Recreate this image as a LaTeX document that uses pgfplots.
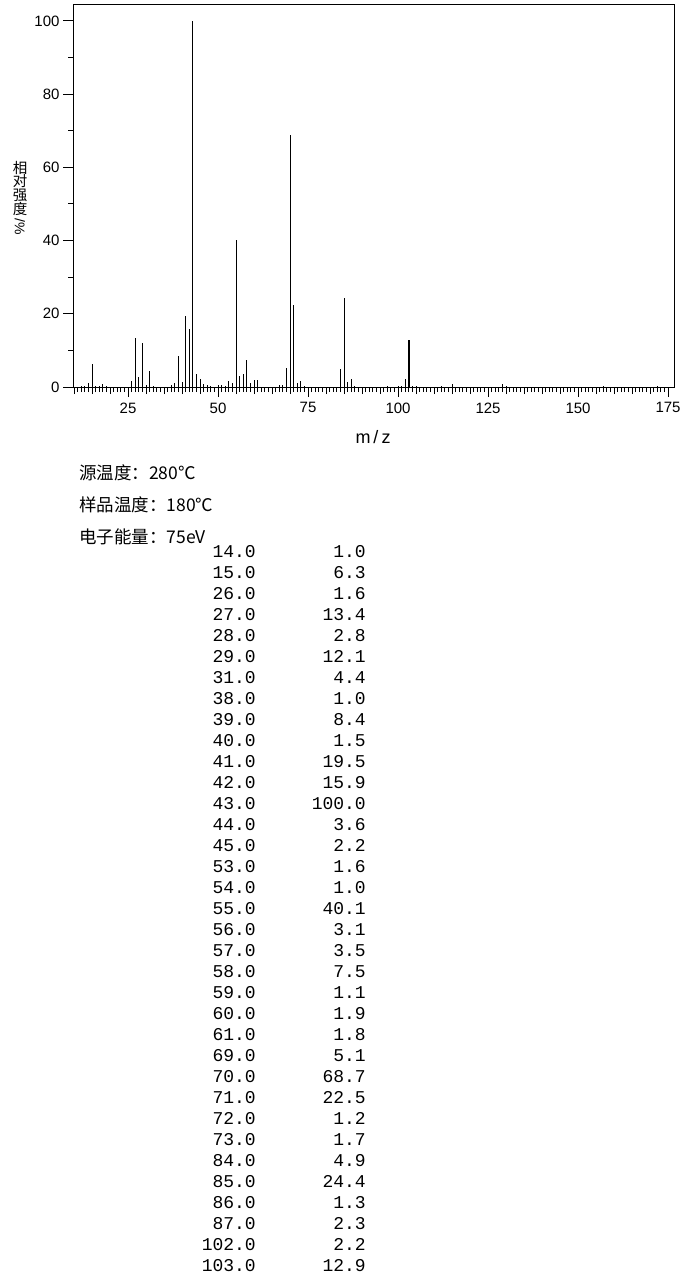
\documentclass[border=0pt]{standalone}
\usepackage{fontspec}
\setmainfont{Liberation Sans}
\newfontfamily\cjk{Noto Sans CJK SC}
\newfontfamily\mono{Liberation Mono}
\usepackage{pgfplots}
\pgfplotsset{compat=1.18}
\begin{document}
\begin{tikzpicture}[x=1pt,y=1pt]
\useasboundingbox (0,0) rectangle (680,-1276);
\begin{axis}[
  at={(73pt,-387pt)}, anchor=south west,
  scale only axis, width=601pt, height=383pt,
  xmin=9.7, xmax=176.65, ymin=0, ymax=104.6,
  axis line style={line width=0.9pt},
  every tick/.style={black, line width=0.9pt},
  tick align=outside, tick pos=left,
  xtick={25,50,...,175}, ytick={0,20,...,100},
  minor xtick={10,11,...,175}, minor ytick={10,30,...,90},
  extra x ticks={10,15,...,175}, extra x tick labels={},
  extra x tick style={major tick length=7pt},
  major tick length=10pt, minor tick length=5pt,
  /pgf/number format/assume math mode=true,
  ticklabel style={font=\fontsize{15}{15}\selectfont},
  xticklabel style={yshift=-2pt},
]
\addplot[ycomb, black, line width=0.9pt, mark=none] coordinates {
(12,0.3) (13,0.4) (14,1.0) (15,6.3) (16,0.4) (17,0.4) (18,0.8) (19,0.3)
(26,1.6) (27,13.4) (28,2.8) (29,12.1) (30,0.5) (31,4.4) (32,0.3)
(37,0.5) (38,1.0) (39,8.4) (40,1.5) (41,19.5) (42,15.9) (43,100.0) (44,3.6) (45,2.2)
(46,0.9) (47,0.5) (48,0.3) (50,0.5) (51,0.5) (52,0.3)
(53,1.6) (54,1.0) (55,40.1) (56,3.1) (57,3.5) (58,7.5) (59,1.1) (60,1.9) (61,1.8)
(67,0.5) (68,0.5) (69,5.1) (70,68.7) (71,22.5) (72,1.2) (73,1.7) (74,0.3)
(84,4.9) (85,24.4) (86,1.3) (87,2.3) (88,0.3)
(97,0.4) (100,0.4) (101,0.4) (102,2.2) (104,0.3) (105,0.2)
(112,0.3) (115,0.9) (129,0.7) (130,0.3) (157,0.3) (172,0.3)
};
\addplot[ycomb, black, line width=2.4pt, mark=none] coordinates {(103,12.9)};
\end{axis}
% axis titles
\node[anchor=north, align=center, inner sep=0, font=\cjk\fontsize{14.5}{13.4}\selectfont] at (20,-161) {相\\对\\强\\度};
\node[rotate=-90, anchor=west, inner sep=0, font=\fontsize{14}{14}\selectfont] at (20,-218) {/\%};
\node[font=\fontsize{18}{18}\selectfont, inner sep=0] at (373,-437) {m\hspace{3pt}/\hspace{3pt}z};
% conditions
\node[anchor=base west, inner sep=0, font=\cjk\fontsize{17.5}{17.5}\selectfont] at (79,-479) {源温度：280℃};
\node[anchor=base west, inner sep=0, font=\cjk\fontsize{17.5}{17.5}\selectfont] at (79,-511) {样品温度：180℃};
\node[anchor=base west, inner sep=0, font=\cjk\fontsize{17.5}{17.5}\selectfont] at (79,-543) {电子能量：75eV};
% peak list
\node[anchor=base east, inner sep=0, font=\mono\fontsize{18}{21}\selectfont] at (366,-557.4) {%
\begin{tabular}[t]{@{}r@{\hspace{56pt}}r@{}}
14.0 & 1.0\\
15.0 & 6.3\\
26.0 & 1.6\\
27.0 & 13.4\\
28.0 & 2.8\\
29.0 & 12.1\\
31.0 & 4.4\\
38.0 & 1.0\\
39.0 & 8.4\\
40.0 & 1.5\\
41.0 & 19.5\\
42.0 & 15.9\\
43.0 & 100.0\\
44.0 & 3.6\\
45.0 & 2.2\\
53.0 & 1.6\\
54.0 & 1.0\\
55.0 & 40.1\\
56.0 & 3.1\\
57.0 & 3.5\\
58.0 & 7.5\\
59.0 & 1.1\\
60.0 & 1.9\\
61.0 & 1.8\\
69.0 & 5.1\\
70.0 & 68.7\\
71.0 & 22.5\\
72.0 & 1.2\\
73.0 & 1.7\\
84.0 & 4.9\\
85.0 & 24.4\\
86.0 & 1.3\\
87.0 & 2.3\\
102.0 & 2.2\\
103.0 & 12.9
\end{tabular}};
\end{tikzpicture}
\end{document}
